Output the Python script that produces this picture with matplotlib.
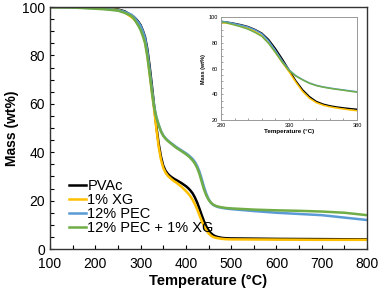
"""
TGA curves: mass loss vs temperature for PVAc films,
with an inset zoom on the main decomposition step (280-380 C).
"""

import numpy as np
import matplotlib.pyplot as plt
from matplotlib.ticker import MultipleLocator

plt.rcParams["font.family"] = ["Liberation Sans", "DejaVu Sans"]

temp = [100, 150, 200, 225, 250, 265, 280, 285, 290, 295, 300, 305, 310, 315,
        320, 325, 330, 335, 340, 345, 350, 355, 360, 365, 370, 375, 380, 390,
        400, 405, 410, 415, 420, 425, 430, 435, 440, 445, 450, 455, 460, 465,
        470, 480, 490, 500, 550, 600, 650, 700, 750, 800]

pvac = [100, 100, 99.8, 99.5, 99.0, 98.2, 96.5, 95.9, 95.0, 93.9, 92.5, 90.3,
        87.5, 82.5, 75.5, 67.5, 59.0, 50.5, 43.5, 38.2, 34.5, 32.4, 31.1, 30.2,
        29.5, 28.9, 28.4, 27.3, 26.0, 25.2, 24.2, 23.0, 21.3, 19.2, 16.7, 14.0,
        11.5, 9.4, 7.8, 6.6, 5.8, 5.3, 5.0, 4.6, 4.45, 4.4, 4.3, 4.2, 4.15,
        4.1, 4.05, 4.0]

xg1 = [100, 100, 99.7, 99.3, 98.8, 97.8, 95.8, 95.1, 94.1, 92.9, 91.3, 88.8,
       85.5, 80.0, 72.5, 64.8, 57.5, 49.5, 42.2, 37.0, 33.6, 31.6, 30.3, 29.4,
       28.6, 27.9, 27.3, 25.8, 24.0, 23.0, 21.8, 20.3, 18.5, 16.4, 14.0, 11.6,
       9.5, 7.8, 6.5, 5.6, 5.0, 4.7, 4.5, 4.2, 4.05, 4.0, 3.95, 3.9, 3.85,
       3.8, 3.8, 3.8]

pec12 = [100, 99.9, 99.5, 99.2, 98.7, 98.0, 96.8, 95.9, 94.8, 93.6, 92.2, 90.0,
         87.0, 81.5, 74.0, 66.0, 59.0, 54.5, 51.4, 48.8, 47.0, 45.8, 44.9, 44.1,
         43.4, 42.7, 42.0, 40.8, 39.6, 38.9, 38.1, 37.2, 36.0, 34.3, 32.0, 29.0,
         25.7, 22.9, 20.7, 19.2, 18.3, 17.8, 17.4, 17.0, 16.7, 16.5, 15.7, 15.0,
         14.5, 14.0, 13.0, 12.0]

pec12_xg1 = [100, 99.8, 99.3, 99.0, 98.5, 97.6, 96.3, 95.2, 93.8, 92.3, 90.5, 88.0,
             85.0, 79.5, 72.5, 65.0, 58.5, 54.2, 51.2, 48.6, 46.8, 45.6, 44.7, 43.9,
             43.2, 42.4, 41.7, 40.5, 39.2, 38.5, 37.6, 36.6, 35.3, 33.5, 31.0, 27.8,
             24.6, 22.2, 20.4, 19.2, 18.4, 17.9, 17.6, 17.2, 16.95, 16.8, 16.3, 16.0,
             15.8, 15.5, 15.0, 14.0]

labels = ["PVAc", "1% XG", "12% PEC", "12% PEC + 1% XG"]
colors = ["#000000", "#FFC000", "#5B9BD5", "#70AD47"]
series = [pvac, xg1, pec12, pec12_xg1]

fig = plt.figure(figsize=(3.8, 2.93), dpi=100)
ax = fig.add_axes([0.1316, 0.150, 0.8342, 0.826])

for y, c, lab in zip(series, colors, labels):
    ax.plot(temp, y, color=c, linewidth=1.8, label=lab)

ax.set_xlim(100, 800)
ax.set_ylim(0, 100)
ax.xaxis.set_major_locator(MultipleLocator(100))
ax.xaxis.set_minor_locator(MultipleLocator(50))
ax.yaxis.set_major_locator(MultipleLocator(20))
ax.yaxis.set_minor_locator(MultipleLocator(5))
ax.tick_params(which="both", direction="in", length=3, width=0.8, labelsize=10)
ax.tick_params(axis="x", pad=6)
ax.set_xlabel("Temperature (\u00b0C)", fontsize=10.5, fontweight="bold", labelpad=2)
ax.set_ylabel("Mass (wt%)", fontsize=10, fontweight="bold", labelpad=2)
for s in ax.spines.values():
    s.set_linewidth(1.0)
    s.set_color("#333333")

ax.legend(loc="lower left", bbox_to_anchor=(0.04, 0.035), frameon=False,
          fontsize=10.5, handlelength=1.2, handletextpad=0.1, labelspacing=0.0,
          borderaxespad=0.0)

# inset: zoom on the main step
ins = fig.add_axes([0.5816, 0.590, 0.3579, 0.352])
for y, c in zip(series, colors):
    ins.plot(temp, y, color=c, linewidth=1.1)
ins.set_xlim(280, 380)
ins.set_ylim(20, 100)
ins.set_xticks([280, 330, 380])
ins.xaxis.set_minor_locator(MultipleLocator(10))
ins.yaxis.set_major_locator(MultipleLocator(20))
ins.yaxis.set_minor_locator(MultipleLocator(5))
ins.tick_params(which="both", direction="in", length=1.5, width=0.5,
                labelsize=4, pad=2, color="#777777")
ins.set_xlabel("Temperature (\u00b0C)", fontsize=4.5, fontweight="bold", labelpad=1)
ins.set_ylabel("Mass (wt%)", fontsize=4, fontweight="bold", labelpad=2)
for s in ins.spines.values():
    s.set_linewidth(0.7)
    s.set_color("#999999")

fig.savefig("out.png", dpi=100)
